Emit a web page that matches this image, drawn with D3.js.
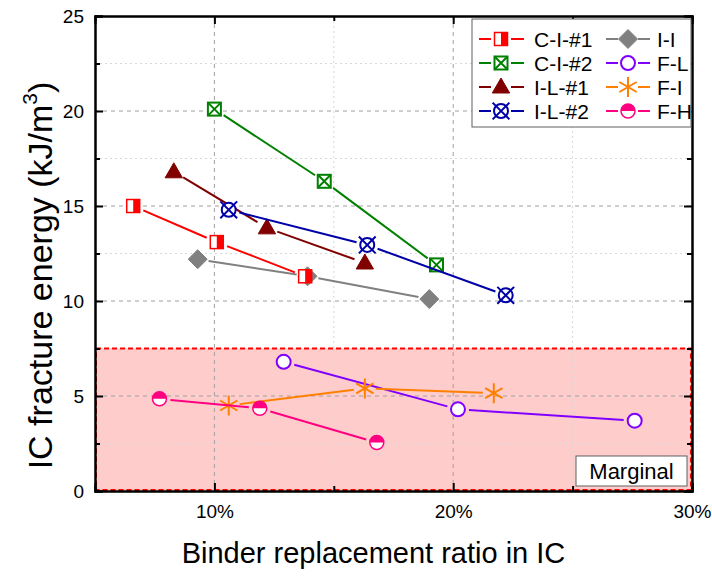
<!DOCTYPE html>
<html>
<head>
<meta charset="utf-8">
<script src="https://cdn.jsdelivr.net/npm/d3@7"></script>
<style>
  html, body { margin: 0; padding: 0; background: #fff; }
  svg { display: block; font-family: "Liberation Sans", Arial, sans-serif; }
</style>
</head>
<body>
<svg id="chart" width="712" height="577"></svg>
<script>
// ---- data ----
const seriesNames = ["C-I-#1", "C-I-#2", "I-L-#1", "I-L-#2", "I-I", "F-L", "F-I", "F-H"];
const xCI1 = [6.6, 10.1, 13.8],  yCI1 = [15.0, 13.1, 11.3];
const xCI2 = [10.0, 14.6, 19.3], yCI2 = [20.1, 16.3, 11.9];
const xIL1 = [8.3, 12.2, 16.3],  yIL1 = [16.8, 13.85, 12.0];
const xIL2 = [10.6, 16.4, 22.2], yIL2 = [14.8, 12.95, 10.3];
const xII  = [9.3, 13.9, 19.0],  yII  = [12.2, 11.3, 10.1];
const xFL  = [12.9, 20.2, 27.6], yFL  = [6.8, 4.3, 3.7];
const xFI  = [10.6, 16.3, 21.7], yFI  = [4.5, 5.4, 5.15];
const xFH  = [7.7, 11.9, 16.8],  yFH  = [4.85, 4.35, 2.55];

const xMajorTicks = [10, 20, 30];
const xMinorTicks = [15, 25];
const yMajorTicks = [0, 5, 10, 15, 20, 25];
const yMinorTicks = [2.5, 7.5, 12.5, 17.5, 22.5];
const marginalLimit = 7.5;
const marginalLabel = "Marginal";

// ---- layout ----
const svg = d3.select("#chart");
const plotLeft = 95, plotRight = 692, plotTop = 16, plotBottom = 491;
const x = d3.scaleLinear().domain([5, 30]).range([plotLeft, plotRight]);
const y = d3.scaleLinear().domain([0, 25]).range([plotBottom, plotTop]);

const styles = {
  "C-I-#1": { color: "#ff0000", marker: "halfSquare" },
  "C-I-#2": { color: "#008000", marker: "xSquare" },
  "I-L-#1": { color: "#800000", marker: "triangle" },
  "I-L-#2": { color: "#0000a8", marker: "xCircle" },
  "I-I":    { color: "#808080", marker: "diamond" },
  "F-L":    { color: "#8000ff", marker: "openCircle" },
  "F-I":    { color: "#ff8000", marker: "asterisk" },
  "F-H":    { color: "#ff0080", marker: "halfCircle" }
};
const seriesData = {
  "C-I-#1": [xCI1, yCI1], "C-I-#2": [xCI2, yCI2], "I-L-#1": [xIL1, yIL1], "I-L-#2": [xIL2, yIL2],
  "I-I": [xII, yII], "F-L": [xFL, yFL], "F-I": [xFI, yFI], "F-H": [xFH, yFH]
};

// ---- marginal zone fill ----
svg.append("rect")
  .attr("x", x(5)).attr("y", y(marginalLimit))
  .attr("width", x(30) - x(5)).attr("height", y(0) - y(marginalLimit))
  .attr("fill", "#ffcccc");

// ---- grid ----
const grid = svg.append("g");
grid.selectAll(".gxM").data(xMajorTicks.filter(d => d < 30)).join("line")
  .attr("x1", d => x(d)).attr("x2", d => x(d)).attr("y1", plotTop).attr("y2", plotBottom)
  .attr("stroke", "#a0a0a0").attr("stroke-dasharray", "4,4");
grid.selectAll(".gxm").data(xMinorTicks).join("line")
  .attr("x1", d => x(d)).attr("x2", d => x(d)).attr("y1", plotTop).attr("y2", plotBottom)
  .attr("stroke", "#d8d8d8").attr("stroke-dasharray", "2,3");
grid.selectAll(".gyM").data(yMajorTicks.filter(d => d > 0 && d < 25)).join("line")
  .attr("x1", plotLeft).attr("x2", plotRight).attr("y1", d => y(d)).attr("y2", d => y(d))
  .attr("stroke", "#a0a0a0").attr("stroke-dasharray", "4,4");
grid.selectAll(".gym").data(yMinorTicks).join("line")
  .attr("x1", plotLeft).attr("x2", plotRight).attr("y1", d => y(d)).attr("y2", d => y(d))
  .attr("stroke", "#d8d8d8").attr("stroke-dasharray", "2,3");

// ---- marginal zone border ----
svg.append("rect")
  .attr("x", x(5) + 1).attr("y", y(marginalLimit))
  .attr("width", x(30) - x(5) - 2).attr("height", y(0) - y(marginalLimit) - 1)
  .attr("fill", "none").attr("stroke", "#ff0000").attr("stroke-width", 2)
  .attr("stroke-dasharray", "5,3");

// ---- marker drawing ----
function drawMarker(g, type, color) {
  const sw = 1.5;
  switch (type) {
    case "halfSquare": {
      const s = 13;
      g.append("rect").attr("x", -s/2).attr("y", -s/2).attr("width", s).attr("height", s).attr("fill", "#fff");
      g.append("rect").attr("x", 0).attr("y", -s/2).attr("width", s/2).attr("height", s).attr("fill", color);
      g.append("rect").attr("x", -s/2).attr("y", -s/2).attr("width", s).attr("height", s)
        .attr("fill", "none").attr("stroke", color).attr("stroke-width", sw);
      break;
    }
    case "xSquare": {
      const s = 13;
      g.append("rect").attr("x", -s/2).attr("y", -s/2).attr("width", s).attr("height", s)
        .attr("fill", "#fff").attr("stroke", color).attr("stroke-width", 2);
      g.append("path").attr("d", `M${-s/2},${-s/2}L${s/2},${s/2}M${s/2},${-s/2}L${-s/2},${s/2}`)
        .attr("stroke", color).attr("stroke-width", 2);
      break;
    }
    case "triangle": {
      g.append("path").attr("d", d3.symbol(d3.symbolTriangle, 130)())
        .attr("transform", "translate(0,1)")
        .attr("fill", color).attr("stroke", color).attr("stroke-width", 1);
      break;
    }
    case "xCircle": {
      const r = 7;
      g.append("circle").attr("r", r).attr("fill", "#fff").attr("stroke", color).attr("stroke-width", 2);
      const k = r * 1.2;
      g.append("path").attr("d", `M${-k},${-k}L${k},${k}M${k},${-k}L${-k},${k}`)
        .attr("stroke", color).attr("stroke-width", 2);
      break;
    }
    case "diamond": {
      const h = 9.5;
      g.append("path").attr("d", `M0,${-h}L${h},0L0,${h}L${-h},0Z`)
        .attr("fill", color).attr("stroke", color).attr("stroke-width", 1);
      break;
    }
    case "openCircle": {
      g.append("circle").attr("r", 7).attr("fill", "#fff").attr("stroke", color).attr("stroke-width", 2);
      break;
    }
    case "asterisk": {
      const r = 10;
      const arms = [90, 30, -30].map(a => {
        const t = a * Math.PI / 180, dx = r * Math.cos(t), dy = r * Math.sin(t);
        return `M${-dx},${-dy}L${dx},${dy}`;
      }).join("");
      g.append("path").attr("d", arms).attr("stroke", color).attr("stroke-width", 2);
      break;
    }
    case "halfCircle": {
      const r = 7;
      g.append("circle").attr("r", r).attr("fill", "#fff");
      g.append("path").attr("d", `M${-r},0A${r},${r} 0 0 1 ${r},0Z`).attr("fill", color);
      g.append("circle").attr("r", r).attr("fill", "none").attr("stroke", color).attr("stroke-width", sw);
      break;
    }
  }
}

// line segments with a gap around each marker
function gappedSegments(pts, gap) {
  const segs = [];
  for (let i = 0; i < pts.length - 1; i++) {
    const [x1, y1] = pts[i], [x2, y2] = pts[i + 1];
    const len = Math.hypot(x2 - x1, y2 - y1);
    if (len <= 2 * gap) continue;
    const ux = (x2 - x1) / len, uy = (y2 - y1) / len;
    segs.push([[x1 + ux * gap, y1 + uy * gap], [x2 - ux * gap, y2 - uy * gap]]);
  }
  return segs;
}

// ---- series ----
const plot = svg.append("g");
const lineGen = d3.line();
const drawOrder = ["I-I", "C-I-#1", "C-I-#2", "I-L-#1", "I-L-#2", "F-L", "F-I", "F-H"];
drawOrder.forEach(name => {
  const st = styles[name];
  const [xs, ys] = seriesData[name];
  const pts = xs.map((v, i) => [x(v), y(ys[i])]);
  const sg = plot.append("g");
  gappedSegments(pts, 11).forEach(s => {
    sg.append("path").attr("d", lineGen(s)).attr("fill", "none")
      .attr("stroke", st.color).attr("stroke-width", 2);
  });
  pts.forEach(p => {
    const mg = sg.append("g").attr("transform", `translate(${p[0]},${p[1]})`);
    drawMarker(mg, st.marker, st.color);
  });
});

// ---- axes ----
const fmtPct = d => d + "%";
const axisG = svg.append("g");
const bottomAxis = axisG.append("g").attr("transform", `translate(0,${plotBottom})`)
  .call(d3.axisBottom(x).tickValues(xMajorTicks).tickFormat(fmtPct).tickSize(-8).tickPadding(14));
axisG.append("g").attr("transform", `translate(0,${plotBottom})`)
  .call(d3.axisBottom(x).tickValues(xMinorTicks).tickFormat("").tickSize(-5));
axisG.append("g").attr("transform", `translate(0,${plotTop})`)
  .call(d3.axisTop(x).tickValues(xMajorTicks).tickFormat("").tickSize(-8));
axisG.append("g").attr("transform", `translate(0,${plotTop})`)
  .call(d3.axisTop(x).tickValues(xMinorTicks).tickFormat("").tickSize(-5));
axisG.append("g").attr("transform", `translate(${plotLeft},0)`)
  .call(d3.axisLeft(y).tickValues(yMajorTicks).tickSize(-8).tickPadding(11));
axisG.append("g").attr("transform", `translate(${plotLeft},0)`)
  .call(d3.axisLeft(y).tickValues(yMinorTicks).tickFormat("").tickSize(-5));
axisG.append("g").attr("transform", `translate(${plotRight},0)`)
  .call(d3.axisRight(y).tickValues(yMajorTicks).tickFormat("").tickSize(-8));
axisG.append("g").attr("transform", `translate(${plotRight},0)`)
  .call(d3.axisRight(y).tickValues(yMinorTicks).tickFormat("").tickSize(-5));

axisG.selectAll(".domain").attr("stroke", "#000").attr("stroke-width", 2);
axisG.selectAll(".tick line").attr("stroke", "#000").attr("stroke-width", 2);
axisG.selectAll(".tick text").attr("fill", "#000").attr("font-size", 19)
  .attr("font-family", '"Liberation Sans", Arial, sans-serif');
bottomAxis.selectAll(".tick text").attr("dy", "0.71em");

// ---- marginal label ----
const mBox = svg.append("g");
mBox.append("rect").attr("x", 576).attr("y", 456).attr("width", 111).attr("height", 30)
  .attr("fill", "#fff").attr("stroke", "#606060").attr("stroke-width", 1);
mBox.append("text").attr("x", 631.5).attr("y", 479).attr("text-anchor", "middle")
  .attr("font-size", 22).attr("fill", "#000").text(marginalLabel);

// ---- legend ----
const legend = svg.append("g");
legend.append("rect").attr("x", 472).attr("y", 19).attr("width", 219).attr("height", 108)
  .attr("fill", "#fff").attr("stroke", "#606060").attr("stroke-width", 1);
const legendCols = [
  { names: ["C-I-#1", "C-I-#2", "I-L-#1", "I-L-#2"], x0: 479, xm: 501, x1: 524, tx: 534 },
  { names: ["I-I", "F-L", "F-I", "F-H"], x0: 606, xm: 628, x1: 650, tx: 657 }
];
const rowY = [39, 63, 87, 111];
legendCols.forEach(col => {
  col.names.forEach((name, i) => {
    const st = styles[name];
    const ly = rowY[i];
    const g = legend.append("g");
    g.append("line").attr("x1", col.x0).attr("x2", col.xm - 10).attr("y1", ly).attr("y2", ly)
      .attr("stroke", st.color).attr("stroke-width", 2);
    g.append("line").attr("x1", col.xm + 10).attr("x2", col.x1).attr("y1", ly).attr("y2", ly)
      .attr("stroke", st.color).attr("stroke-width", 2);
    const mg = g.append("g").attr("transform", `translate(${col.xm},${ly})`);
    drawMarker(mg, st.marker, st.color);
    g.append("text").attr("x", col.tx).attr("y", ly + 8).attr("font-size", 21)
      .attr("fill", "#000").text(name);
  });
});

// ---- axis titles ----
svg.append("text").attr("x", (plotLeft + plotRight) / 2 - 20).attr("y", 563).attr("text-anchor", "middle")
  .attr("font-size", 29).attr("fill", "#000").text("Binder replacement ratio in IC");
const yt = svg.append("text").attr("transform", `translate(52,${(plotTop + plotBottom) / 2 + 22}) rotate(-90)`)
  .attr("text-anchor", "middle").attr("font-size", 34).attr("fill", "#000");
yt.append("tspan").text("IC fracture energy (kJ/m");
yt.append("tspan").attr("font-size", 21).attr("dy", -15).text("3");
yt.append("tspan").attr("dy", 15).text(")");
</script>
</body>
</html>
